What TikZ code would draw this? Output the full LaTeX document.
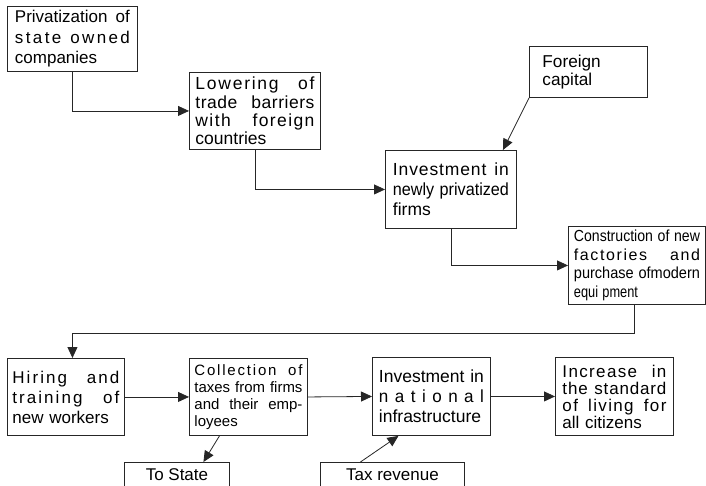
\documentclass[tikz,border=0pt]{standalone}
\usepackage{fontspec}
\setmainfont{Liberation Sans}
\usepackage{graphicx}
\usetikzlibrary{arrows.meta}
\newsavebox\flbox
\newcommand\fl[2]{\leavevmode\sbox\flbox{#2}\ifdim\wd\flbox>#1\relax\resizebox{#1}{\ht\flbox}{\usebox\flbox}\else\hbox to #1{\spaceskip=\fontdimen2\font plus 1fil\relax #2}\fi}
\newcommand\ls[2]{{\addfontfeature{LetterSpace=#1}#2}}
\newcommand\fs[2]{\fontsize{#1}{#2}\selectfont}
\tikzset{
  box/.style={draw=black!85, line width=0.9pt, anchor=north west, inner sep=0pt, align=left},
  conn/.style={draw=black!85, line width=0.8pt, -{Triangle[length=11pt,width=10pt]}}
}
\begin{document}
\begin{tikzpicture}[x=1pt,y=-1pt]
\useasboundingbox (0,0) rectangle (706,486);
\node[box, minimum width=130, minimum height=65, text width=115pt, font=\fs{17}{20.5}] (b1) at (7,6)
  {\fl{115pt}{Privatization of}\\\fl{115pt}{\ls{14}{state owned}}\\companies};
\node[box, minimum width=131, minimum height=77, text width=119pt, font=\fs{17.5}{18.3}] (b2) at (189,72)
  {\fl{119pt}{\ls{10}{Lowering of}}\\\fl{119pt}{\ls{3}{trade barriers}}\\\fl{119pt}{\ls{8}{with foreign}}\\countries};
\node[box, minimum width=118, minimum height=51, text width=92pt, font=\fs{17.2}{18.3}] (b3) at (529,46)
  {Foreign\\capital};
\node[box, minimum width=131, minimum height=78, text width=116pt, font=\fs{17.5}{20}] (b4) at (385,150)
  {\fl{116pt}{\ls{5}{Investment in}}\\\fl{116pt}{newly privatized}\\firms};
\node[box, minimum width=137, minimum height=78, text width=126pt, font=\fs{16}{18.5}] (b5) at (568,226)
  {\fl{126pt}{Construction of new}\\\fl{126pt}{\ls{10}{factories and}}\\\fl{126pt}{purchase ofmodern}\\\fl{64pt}{equi pment}};
\node[box, minimum width=117, minimum height=77, text width=107pt, font=\fs{17}{20}] (b6) at (7,358)
  {\fl{107pt}{\ls{12}{Hiring and}}\\\fl{107pt}{\ls{12}{training of}}\\new workers};
\node[box, minimum width=118, minimum height=77, text width=108pt, font=\fs{15}{17}] (b7) at (189,358)
  {\fl{108pt}{\ls{12}{Collection of}}\\\fl{108pt}{taxes from firms}\\\fl{108pt}{and their emp-}\\loyees};
\node[box, minimum width=118, minimum height=78, text width=105pt, font=\fs{17.5}{20}] (b8) at (372,357)
  {\fl{105pt}{Investment in}\\\fl{105pt}{\ls{38}{national}}\\infrastructure};
\node[box, minimum width=118, minimum height=78, text width=104pt, font=\fs{17}{17}] (b9) at (555,357)
  {\fl{104pt}{\ls{8}{Increase in}}\\\fl{104pt}{\ls{5}{the standard}}\\\fl{104pt}{\ls{8}{of living for}}\\all citizens};
\node[box, minimum width=105, inner ysep=6pt, text depth=24pt, align=center, font=\fs{17}{20}] (b10) at (124,462) {To State};
\node[box, minimum width=144, inner ysep=6pt, text depth=24pt, align=center, font=\fs{17}{20}] (b11) at (320,462) {Tax revenue};
\draw[conn] (b1.south) |- (b2.west);
\draw[conn] (b2.south) |- (b4.west);
\draw[conn] (b3.south west) -- ([xshift=52pt]b4.north);
\draw[conn] (b4.south) |- (b5.west);
\draw[conn] ([xshift=-2.5pt]b5.south) -- ++(0,28) -| ([xshift=6.5pt]b6.north);
\draw[conn] (b6.east) -- (b7.west);
\draw[conn] (b7.east) -- (b8.west);
\draw[conn] (b8.east) -- (b9.west);
\draw[conn] ([xshift=-29pt]b7.south) -- ([xshift=26.5pt]b10.north);
\draw[conn] ([xshift=-32pt]b11.north) -- ([xshift=-33pt]b8.south);
\end{tikzpicture}
\end{document}
